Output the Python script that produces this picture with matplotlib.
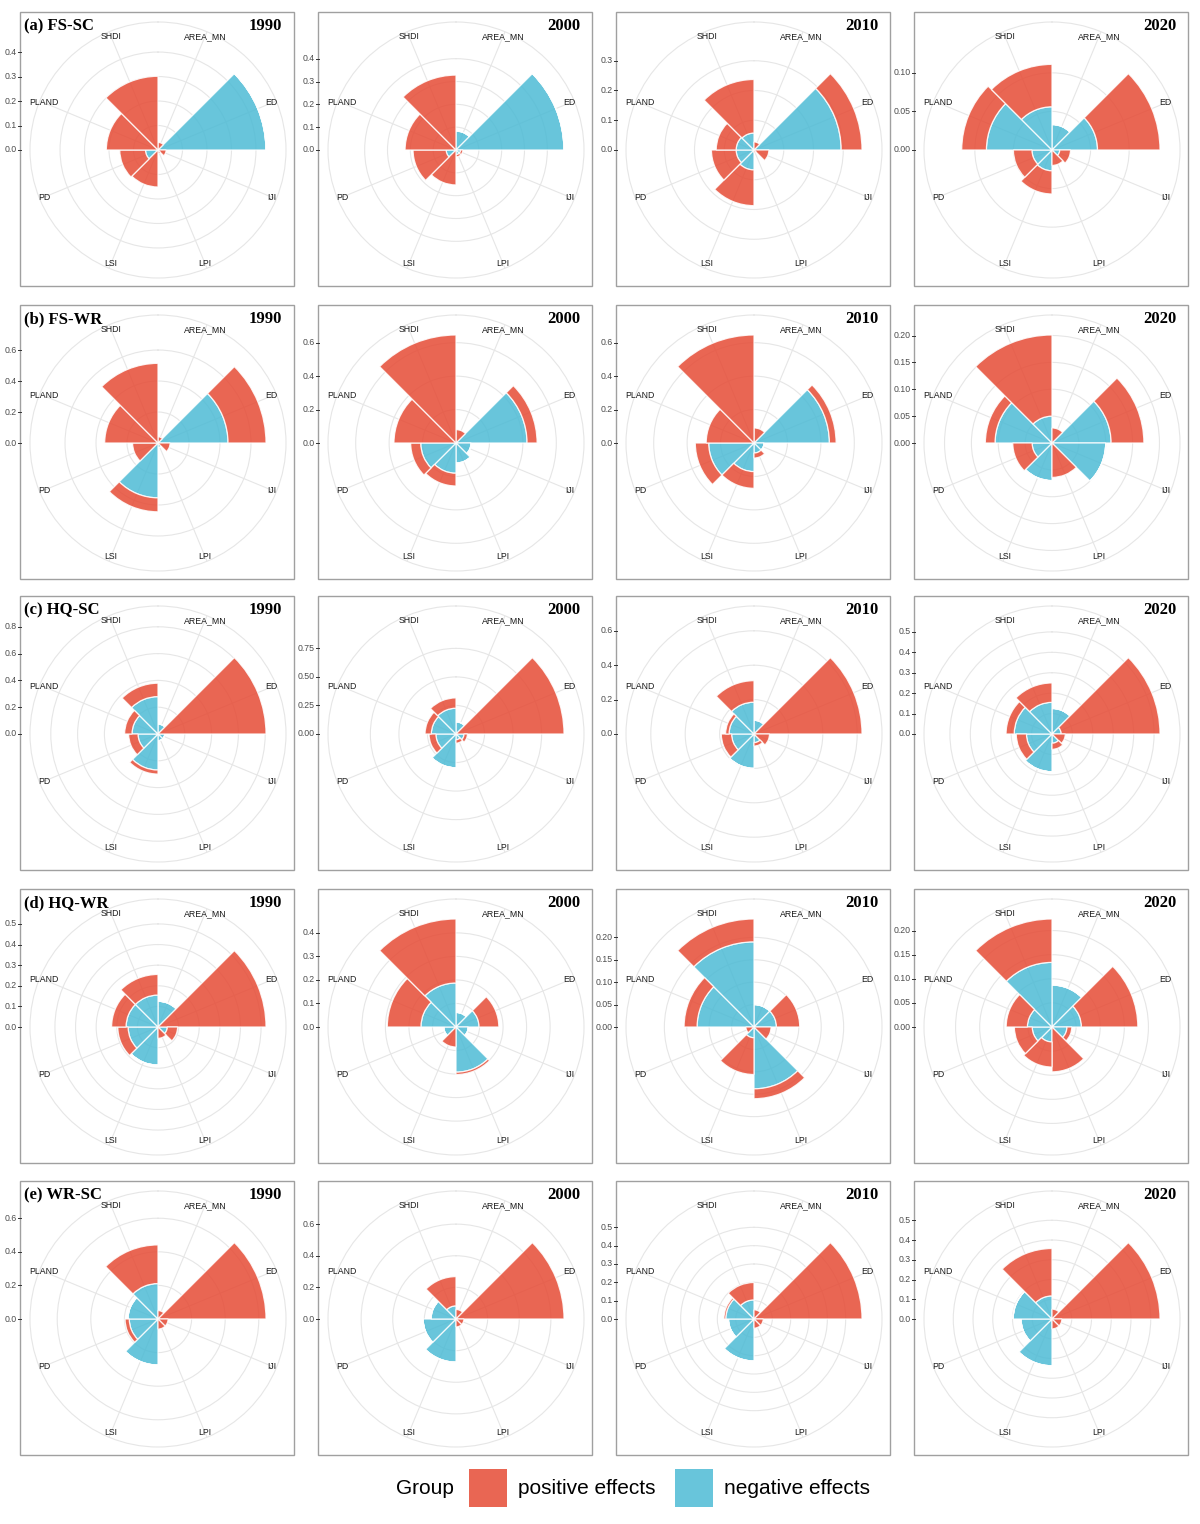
import numpy as np
import matplotlib.pyplot as plt
from matplotlib.patches import Rectangle
from matplotlib.lines import Line2D
from matplotlib.transforms import Bbox, TransformedBbox

W, H = 1200, 1524

categories = ["AREA_MN", "ED", "IJI", "LPI", "LSI", "PD", "PLAND", "SHDI"]
years = ["1990", "2000", "2010", "2020"]
pair_names = ["(a) FS-SC", "(b) FS-WR", "(c) HQ-SC", "(d) HQ-WR", "(e) WR-SC"]

# one row per year, values in category order above
fs_sc_neg = [[0, 0.441, 0, 0, 0, 0.051, 0, 0],
             [0.083, 0.473, 0.02, 0.02, 0, 0.043, 0, 0],
             [0, 0.293, 0, 0, 0.067, 0.06, 0.06, 0.057],
             [0.033, 0.059, 0.01, 0, 0.027, 0.026, 0.085, 0.056]]
fs_sc_pos = [[0.031, 0, 0.033, 0.015, 0.151, 0.105, 0.211, 0.301],
             [0, 0, 0.01, 0.01, 0.153, 0.145, 0.223, 0.328],
             [0.027, 0.07, 0.05, 0.01, 0.12, 0.083, 0.067, 0.18],
             [0, 0.081, 0.014, 0.02, 0.03, 0.024, 0.032, 0.055]]

fs_wr_neg = [[0, 0.452, 0, 0.03, 0.354, 0, 0, 0],
             [0, 0.425, 0.09, 0.12, 0.181, 0.211, 0, 0],
             [0, 0.451, 0.06, 0.06, 0.171, 0.271, 0, 0],
             [0, 0.11, 0.1, 0, 0.07, 0.037, 0.106, 0.05]]
fs_wr_pos = [[0.04, 0.245, 0.078, 0, 0.09, 0.164, 0.344, 0.514],
             [0.08, 0.06, 0, 0, 0.076, 0.06, 0.371, 0.646],
             [0.09, 0.04, 0, 0.03, 0.10, 0.08, 0.286, 0.646],
             [0.028, 0.061, 0, 0.064, 0, 0.036, 0.018, 0.151]]

hq_sc_neg = [[0.074, 0, 0.05, 0.05, 0.269, 0.149, 0.194, 0.279],
             [0.106, 0, 0.07, 0.05, 0.296, 0.176, 0.216, 0.226],
             [0.08, 0, 0, 0.05, 0.2, 0.13, 0.145, 0.185],
             [0.125, 0.045, 0, 0.045, 0.185, 0.125, 0.185, 0.155]]
hq_sc_pos = [[0, 0.806, 0, 0, 0.03, 0.07, 0.055, 0.10],
             [0, 0.946, 0.03, 0.03, 0, 0.06, 0.055, 0.09],
             [0, 0.628, 0.09, 0.02, 0, 0.06, 0.02, 0.125],
             [0, 0.484, 0.065, 0.03, 0, 0.05, 0.04, 0.095]]

hq_wr_neg = [[0.125, 0, 0.045, 0, 0.185, 0.145, 0.155, 0.155],
             [0.062, 0.098, 0.052, 0.192, 0, 0.052, 0.149, 0.187],
             [0.05, 0.05, 0, 0.138, 0.024, 0, 0.127, 0.19],
             [0.087, 0.061, 0.031, 0, 0.031, 0.041, 0.051, 0.134]]
hq_wr_pos = [[0, 0.524, 0.05, 0.055, 0, 0.05, 0.07, 0.10],
             [0, 0.084, 0, 0.01, 0.085, 0, 0.143, 0.272],
             [0, 0.052, 0.038, 0.022, 0.082, 0.018, 0.029, 0.051],
             [0, 0.117, 0.01, 0.093, 0.052, 0.037, 0.044, 0.09]]

wr_sc_neg = [[0, 0, 0, 0, 0.274, 0.171, 0.179, 0.211],
             [0, 0, 0, 0, 0.273, 0.208, 0.158, 0.083],
             [0, 0, 0, 0, 0.229, 0.139, 0.154, 0.104],
             [0, 0, 0, 0, 0.237, 0.157, 0.197, 0.117]]
wr_sc_pos = [[0.05, 0.643, 0.06, 0.06, 0, 0.025, 0, 0.23],
             [0.06, 0.683, 0.05, 0.05, 0, 0, 0, 0.185],
             [0.05, 0.589, 0.05, 0.05, 0, 0, 0.01, 0.095],
             [0.05, 0.547, 0.05, 0.05, 0, 0, 0, 0.24]]

# radial axis tick labels for each panel
fs_sc_ticks = [["0.0", "0.1", "0.2", "0.3", "0.4"], ["0.0", "0.1", "0.2", "0.3", "0.4"],
               ["0.0", "0.1", "0.2", "0.3"], ["0.00", "0.05", "0.10"]]
fs_wr_ticks = [["0.0", "0.2", "0.4", "0.6"], ["0.0", "0.2", "0.4", "0.6"],
               ["0.0", "0.2", "0.4", "0.6"], ["0.00", "0.05", "0.10", "0.15", "0.20"]]
hq_sc_ticks = [["0.0", "0.2", "0.4", "0.6", "0.8"], ["0.00", "0.25", "0.50", "0.75"],
               ["0.0", "0.2", "0.4", "0.6"], ["0.0", "0.1", "0.2", "0.3", "0.4", "0.5"]]
hq_wr_ticks = [["0.0", "0.1", "0.2", "0.3", "0.4", "0.5"], ["0.0", "0.1", "0.2", "0.3", "0.4"],
               ["0.00", "0.05", "0.10", "0.15", "0.20"], ["0.00", "0.05", "0.10", "0.15", "0.20"]]
wr_sc_ticks = [["0.0", "0.2", "0.4", "0.6"], ["0.0", "0.2", "0.4", "0.6"],
               ["0.0", "0.1", "0.2", "0.3", "0.4", "0.5"], ["0.0", "0.1", "0.2", "0.3", "0.4", "0.5"]]

all_neg = [fs_sc_neg, fs_wr_neg, hq_sc_neg, hq_wr_neg, wr_sc_neg]
all_pos = [fs_sc_pos, fs_wr_pos, hq_sc_pos, hq_wr_pos, wr_sc_pos]
all_ticks = [fs_sc_ticks, fs_wr_ticks, hq_sc_ticks, hq_wr_ticks, wr_sc_ticks]

RED = "#E64B35"
BLUE = "#4DBBD5"
GRID = "#E6E6E6"

col_cx = [158, 456, 754, 1052]
row_cy = [150, 443, 734, 1027, 1319]
RING = 128    # px radius of outer circle
BARMAX = 108  # px radius of the longest bar

fig = plt.figure(figsize=(W / 100, H / 100), dpi=100)
fig.patch.set_facecolor("white")

n = len(categories)
theta = (np.arange(n) + 0.5) * 2 * np.pi / n
width = 2 * np.pi / n

for r in range(5):
    for c in range(4):
        cx, cy = col_cx[c], row_cy[r]
        neg = np.array(all_neg[r][c])
        pos = np.array(all_pos[r][c])
        ticks = all_ticks[r][c]
        m = (neg + pos).max()
        pxu = BARMAX / m
        rmax = RING / pxu

        # panel frame
        left, top = cx - 138, cy - 138
        fig.patches.append(Rectangle((left / W, 1 - (top + 274) / H), 274 / W, 274 / H,
                                     transform=fig.transFigure, fill=False,
                                     edgecolor="#A0A0A0", lw=1.0))

        ax = fig.add_axes([(cx - RING) / W, 1 - (cy + RING) / H, 2 * RING / W, 2 * RING / H],
                          projection="polar")
        ax.set_theta_zero_location("N")
        ax.set_theta_direction(-1)
        ax.set_ylim(0, rmax)
        ax.set_axisbelow(True)
        ax.bar(theta, neg, width=width, bottom=0, color=BLUE, alpha=0.85,
               edgecolor="white", linewidth=0.9)
        ax.bar(theta, pos, width=width, bottom=neg, color=RED, alpha=0.85,
               edgecolor="white", linewidth=0.9)
        ax.set_xticks(theta)
        ax.set_xticklabels([])
        ax.set_yticks([float(t) for t in ticks])
        ax.set_yticklabels([])
        ax.tick_params(length=0)
        ax.grid(True, color=GRID, lw=0.8)
        ax.spines["polar"].set_color(GRID)
        ax.spines["polar"].set_linewidth(0.8)
        ax.patch.set_alpha(0)

        r_lab = 123 / pxu
        for th, cat in zip(theta, categories):
            ax.text(th, r_lab, cat, ha="center", va="center", fontsize=6.3,
                    family="Liberation Sans", color="#1A1A1A")

        # radial axis on the left side
        ax_x = cx - 137
        clip = TransformedBbox(Bbox([[(cx - 158) / W, 0], [1, 1]]), fig.transFigure)
        for t in ticks:
            yp = cy - float(t) * pxu
            fig.add_artist(Line2D([(ax_x - 3) / W, ax_x / W], [1 - yp / H, 1 - yp / H],
                                  transform=fig.transFigure, color="#333333", lw=0.7))
            txt = fig.text((ax_x - 4) / W, 1 - yp / H, t, ha="right", va="center",
                           fontsize=6.3, family="Liberation Sans", color="#4D4D4D")
            if c > 0:
                txt.set_clip_on(True)
                txt.set_clip_box(clip)

        if c == 0:
            fig.text((left + 4) / W, 1 - (top + 14) / H, pair_names[r], ha="left",
                     va="center", fontsize=12, family="Liberation Serif", weight="bold")
        fig.text((left + 262) / W, 1 - (top + 14) / H, years[c], ha="right",
                 va="center", fontsize=12, family="Liberation Serif", weight="bold")

# legend
ly = 1488
fig.text(396 / W, 1 - ly / H, "Group", ha="left", va="center", fontsize=15,
         family="Liberation Sans")
for x0, col, lab in [(469, RED, "positive effects"), (675, BLUE, "negative effects")]:
    fig.patches.append(Rectangle((x0 / W, 1 - (ly + 19) / H), 38 / W, 38 / H,
                                 transform=fig.transFigure, facecolor=col, alpha=0.85,
                                 edgecolor="none"))
    fig.text((x0 + 49) / W, 1 - ly / H, lab, ha="left", va="center", fontsize=15,
             family="Liberation Sans")

fig.savefig("out.png", dpi=100, facecolor="white")
